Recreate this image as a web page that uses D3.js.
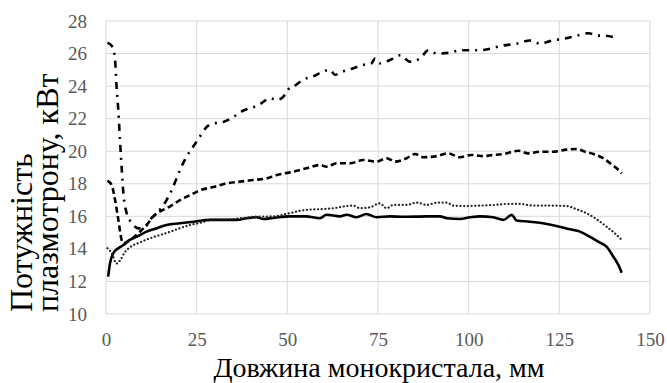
<!DOCTYPE html>
<html>
<head>
<meta charset="utf-8">
<script src="https://cdn.jsdelivr.net/npm/d3@7"></script>
<style>
  html, body { margin: 0; padding: 0; background: #fff; }
  svg { display: block; }
  svg text { font-family: "Liberation Serif", "Times New Roman", serif; }
</style>
</head>
<body>
<svg id="chart" width="667" height="383"></svg>
<script>
// Crystal length (mm) vs plasmatron power (kW), four runs
const xTicks = [0, 25, 50, 75, 100, 125, 150];
const yTicks = [10, 12, 14, 16, 18, 20, 22, 24, 26, 28];

const dashDotX = [0.4, 1.8, 2.5, 2.9, 3.4, 3.9, 4.3, 4.8, 5.7, 7.1, 8.9, 10.8, 12.6, 14.4, 16.7, 18.1, 20.4, 22.2, 24.1, 25.9, 27.8, 29.6, 32.3, 35.1, 37.9, 40.6, 42.5, 45.2, 47.1, 48.9, 50.7, 51.6, 54.4, 57.2, 59.9, 61.8, 63.1, 65.4, 68.2, 70.9, 73.2, 74.2, 75.5, 78.3, 81.1, 83.8, 86.6, 88.9, 91.2, 94.8, 97.6, 100.4, 103.1, 105.9, 109.6, 113.2, 116.9, 119.7, 122.9, 126.1, 129.8, 133.0, 135.7, 137.6, 140.1];
const dashDotY = [26.67, 26.4, 25.6, 24.0, 22.5, 20.5, 19.05, 17.4, 16.2, 15.6, 15.26, 15.36, 15.9, 16.3, 17.0, 17.6, 18.85, 19.66, 20.3, 20.9, 21.5, 21.7, 21.8, 22.1, 22.5, 22.7, 22.9, 23.25, 23.15, 23.35, 23.9, 23.97, 24.4, 24.6, 24.9, 25.0, 24.7, 24.9, 25.1, 25.3, 25.4, 25.7, 25.4, 25.6, 25.9, 25.5, 25.7, 26.2, 26.0, 26.05, 26.2, 26.2, 26.2, 26.3, 26.5, 26.6, 26.8, 26.6, 26.8, 26.9, 27.1, 27.25, 27.1, 27.1, 27.0];

const dashedX = [0.4, 1.6, 2.5, 3.4, 4.3, 4.8, 6.6, 8.9, 11.2, 13.0, 14.9, 17.6, 20.4, 23.2, 25.9, 29.6, 33.3, 36.9, 40.6, 44.3, 47.1, 50.7, 55.3, 59.0, 60.8, 63.6, 67.3, 70.9, 74.6, 77.4, 79.7, 82.9, 85.2, 87.5, 91.2, 94.4, 97.6, 100.8, 104.0, 106.0, 109.6, 113.7, 116.4, 119.7, 123.3, 127.0, 129.8, 132.1, 134.4, 137.1, 139.0, 140.8, 142.2];
const dashedY = [18.2, 17.9, 17.0, 15.8, 14.55, 14.35, 14.55, 14.96, 15.47, 15.98, 16.3, 16.6, 17.0, 17.3, 17.6, 17.8, 18.03, 18.13, 18.23, 18.33, 18.54, 18.7, 18.95, 19.15, 19.05, 19.26, 19.26, 19.46, 19.36, 19.57, 19.36, 19.57, 19.83, 19.63, 19.7, 19.87, 19.63, 19.77, 19.7, 19.75, 19.83, 20.03, 19.87, 19.97, 19.97, 20.1, 20.14, 19.97, 19.83, 19.57, 19.26, 18.95, 18.64];

const dottedX = [0.4, 1.6, 2.9, 3.9, 5.2, 6.6, 9.4, 12.1, 14.9, 17.6, 20.4, 23.2, 25.9, 29.6, 33.3, 36.9, 41.5, 46.2, 50.7, 55.3, 59.0, 62.7, 66.4, 68.2, 70.0, 72.7, 75.5, 77.4, 79.2, 82.9, 85.7, 88.5, 91.2, 94.0, 95.8, 99.5, 103.1, 107.2, 110.5, 114.1, 117.8, 121.5, 127.0, 129.8, 132.5, 135.3, 138.0, 140.3, 142.2];
const dottedY = [14.04, 13.73, 13.1, 13.3, 13.8, 14.1, 14.4, 14.65, 14.85, 15.05, 15.27, 15.47, 15.6, 15.8, 15.8, 15.88, 15.98, 16.0, 16.2, 16.4, 16.44, 16.5, 16.63, 16.66, 16.5, 16.55, 16.8, 16.5, 16.7, 16.7, 16.84, 16.7, 16.84, 16.84, 16.66, 16.63, 16.66, 16.7, 16.76, 16.76, 16.66, 16.66, 16.63, 16.43, 16.19, 15.82, 15.37, 14.96, 14.55];

const solidX = [0.6, 1.1, 2.0, 3.4, 4.8, 6.6, 8.5, 11.2, 14.0, 16.7, 20.4, 24.1, 28.7, 33.3, 36.0, 38.8, 41.5, 43.4, 46.0, 50.7, 55.0, 59.0, 60.8, 64.5, 66.4, 69.1, 71.8, 74.6, 78.3, 82.0, 88.5, 92.1, 94.0, 97.6, 100.4, 103.1, 106.8, 109.6, 111.9, 113.2, 116.9, 120.5, 124.2, 127.9, 130.7, 133.4, 136.2, 138.0, 139.9, 141.3, 142.2];
const solidY = [12.3, 13.1, 13.73, 14.04, 14.24, 14.55, 14.75, 15.06, 15.27, 15.47, 15.57, 15.67, 15.78, 15.78, 15.78, 15.88, 15.94, 15.84, 15.9, 16.0, 16.0, 15.88, 16.1, 16.0, 16.1, 15.94, 16.14, 15.94, 16.0, 15.97, 16.0, 16.0, 15.88, 15.84, 15.94, 16.0, 15.94, 15.78, 16.09, 15.74, 15.67, 15.57, 15.41, 15.2, 15.06, 14.75, 14.38, 14.14, 13.52, 13.0, 12.54];

const svg = d3.select("#chart");
const margin = { left: 106, right: 17, top: 21, bottom: 69 };
const W = 667, H = 383;

const x = d3.scaleLinear().domain([0, 150]).range([margin.left, W - margin.right]);
const y = d3.scaleLinear().domain([10, 28]).range([H - margin.bottom, margin.top]);

const gridColor = "#d9d9d9";
const labelColor = "#595959";
const serif = "'Liberation Serif', 'Times New Roman', serif";

// Gridlines
svg.append("g").selectAll("line").data(yTicks).join("line")
  .attr("x1", x(0)).attr("x2", x(150))
  .attr("y1", d => y(d)).attr("y2", d => y(d))
  .attr("stroke", gridColor).attr("stroke-width", 1);
svg.append("g").selectAll("line").data(xTicks).join("line")
  .attr("y1", y(10)).attr("y2", y(28))
  .attr("x1", d => x(d)).attr("x2", d => x(d))
  .attr("stroke", gridColor).attr("stroke-width", 1);

// Axes (labels only)
function styleAxis(g) {
  g.select(".domain").remove();
  g.attr("font-family", serif).attr("font-size", 19);
  g.selectAll("text")
    .attr("font-family", serif)
    .style("font-family", serif)
    .style("font-size", "19px")
    .attr("fill", labelColor);
}
const yAxis = d3.axisLeft(y).tickValues(yTicks).tickSize(0).tickPadding(19);
svg.append("g").attr("transform", `translate(${x(0)},0)`).call(yAxis).call(styleAxis);

const xAxis = d3.axisBottom(x).tickValues(xTicks).tickSize(0).tickPadding(19);
svg.append("g").attr("transform", `translate(0,${y(10)})`).call(xAxis).call(styleAxis);

// Series
const line = d3.line().x(d => x(d[0])).y(d => y(d[1])).curve(d3.curveMonotoneX);
const series = [
  { xs: solidX, ys: solidY, dash: null, w: 2.6, color: "#000", cap: "butt" },
  { xs: dottedX, ys: dottedY, dash: "0.1 3.6", w: 2.2, color: "#222", cap: "round" },
  { xs: dashedX, ys: dashedY, dash: "6 3.5", w: 2.6, color: "#000", cap: "butt" },
  { xs: dashDotX, ys: dashDotY, dash: "7 6 2 6", w: 2.6, color: "#000", cap: "butt" }
];
series.forEach(s => {
  const pts = s.xs.map((v, i) => [v, s.ys[i]]);
  svg.append("path").datum(pts)
    .attr("d", line)
    .attr("fill", "none")
    .attr("stroke", s.color)
    .attr("stroke-width", s.w)
    .attr("stroke-linecap", s.cap)
    .attr("stroke-linejoin", "round")
    .attr("stroke-dasharray", s.dash);
});

// Axis titles
const yTitle = svg.append("g").attr("transform", `translate(0,312) rotate(-90)`);
yTitle.append("text").attr("x", 0).attr("y", 32)
  .style("font-family", serif).style("font-size", "32px").attr("fill", "#000")
  .text("Потужність");
yTitle.append("text").attr("x", 0).attr("y", 58)
  .style("font-family", serif).style("font-size", "32px").attr("fill", "#000")
  .text("плазмотрону, кВт");

svg.append("text")
  .attr("x", (x(0) + x(150)) / 2 + 1).attr("y", 377)
  .attr("text-anchor", "middle")
  .style("font-family", serif).style("font-size", "28px").attr("fill", "#000")
  .text("Довжина монокристала, мм");
</script>
</body>
</html>
